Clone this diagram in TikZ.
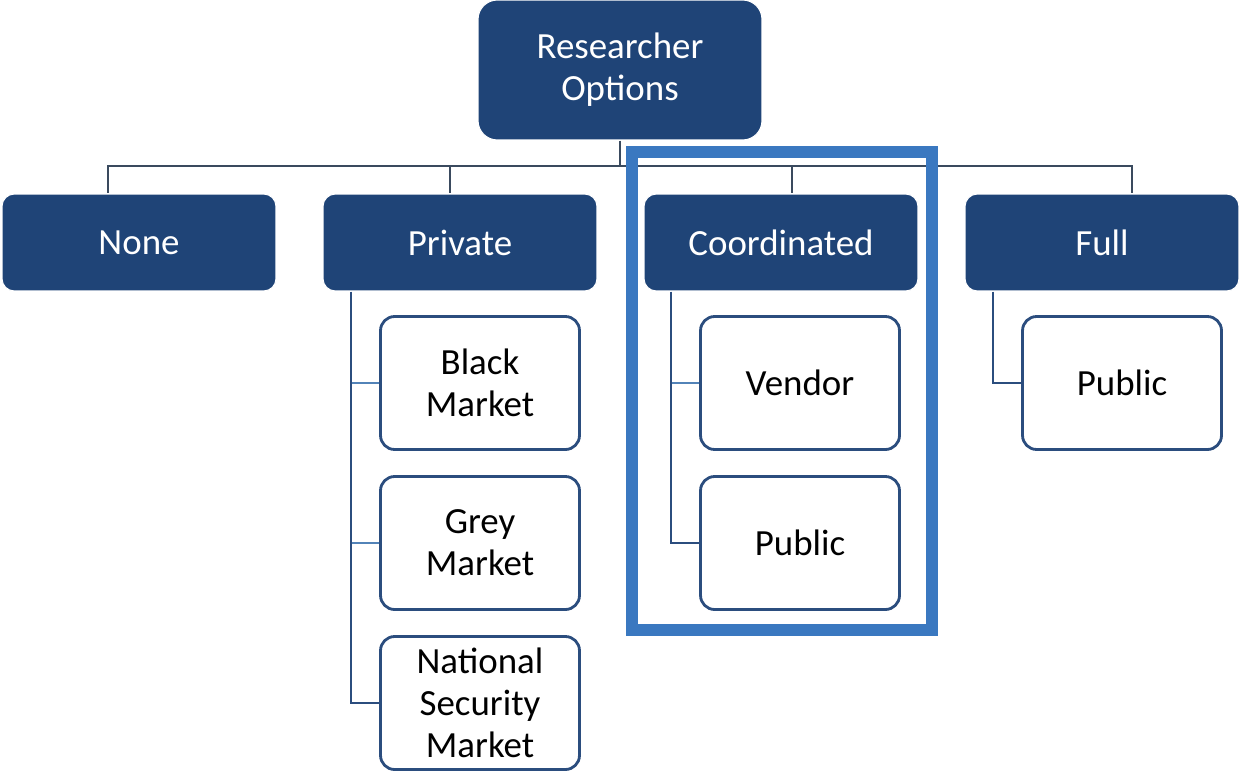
\documentclass[tikz,border=0pt]{standalone}
\usepackage{fontspec}
\setmainfont{Carlito}
\usetikzlibrary{positioning}

\definecolor{navy}{HTML}{1F4477}
\definecolor{busline}{HTML}{3A4A5E}
\definecolor{spineline}{HTML}{2B4D7E}
\definecolor{twigline}{HTML}{5283B8}
\definecolor{frameblue}{HTML}{3A78C0}

\begin{document}
\begin{tikzpicture}[x=0.02cm,y=-0.02cm,
    font=\fontsize{21}{24}\selectfont,
    rootbox/.style={fill=navy,draw=white,line width=0.6pt,rounded corners=11pt,text=white,
      align=center,minimum width=5.68cm,minimum height=2.8cm},
    optbox/.style={fill=navy,draw=white,line width=0.6pt,rounded corners=7pt,text=white,
      minimum width=5.48cm,minimum height=1.94cm},
    leafbox/.style={draw=spineline,line width=1.6pt,rounded corners=8pt,fill=white,
      align=center,minimum width=3.98cm,minimum height=2.66cm},
    bus/.style={draw=busline,line width=1.4pt},
    spine/.style={draw=spineline,line width=1.4pt},
    twig/.style={draw=twigline,line width=1.2pt}]
    \useasboundingbox (0,0) rectangle (1243,771);

    % top of the tree
    \node[rootbox] (root) at (620,70) {Researcher\\Options};
    \coordinate (bus) at (620,166);

    % the four options
    \node[optbox] (none) at (139,242.5) {None};
    \node[optbox] (private) at (460,242.5) {Private};
    \node[optbox] (coord) at (781,242.5) {Coordinated};
    \node[optbox] (full) at (1102,242.5) {Full};

    % sub-options
    \node[leafbox] (black) at (480,383) {Black\\Market};
    \node[leafbox] (grey) at (480,543) {Grey\\Market};
    \node[leafbox] (natsec) at (480,703) {National\\Security\\Market};
    \node[leafbox] (vendor) at (800,383) {Vendor};
    \node[leafbox] (cpublic) at (800,543) {Public};
    \node[leafbox] (fpublic) at (1122,383) {Public};

    % bus from root to options
    \draw[bus] (root.south) -- (bus);
    \draw[bus] (bus) -| ([xshift=-0.62cm]none.north);
    \draw[bus] (bus) -| ([xshift=-0.2cm]private.north);
    \draw[bus] (bus) -| ([xshift=0.22cm]coord.north);
    \draw[bus] (bus) -| ([xshift=0.6cm]full.north);

    % spines down to the sub-options
    \draw[twig] ([xshift=-2.18cm]private.south |- black.west) -- (black.west);
    \draw[twig] ([xshift=-2.18cm]private.south |- grey.west) -- (grey.west);
    \draw[spine] ([xshift=-2.18cm]private.south) |- (natsec.west);
    \draw[twig] ([xshift=-2.2cm]coord.south |- vendor.west) -- (vendor.west);
    \draw[spine] ([xshift=-2.2cm]coord.south) |- (cpublic.west);
    \draw[spine] ([xshift=-2.18cm]full.south) |- (fpublic.west);

    % highlight round the coordinated branch
    \draw[frameblue,line width=6.8pt] (632,152) rectangle (932,630);
\end{tikzpicture}
\end{document}
